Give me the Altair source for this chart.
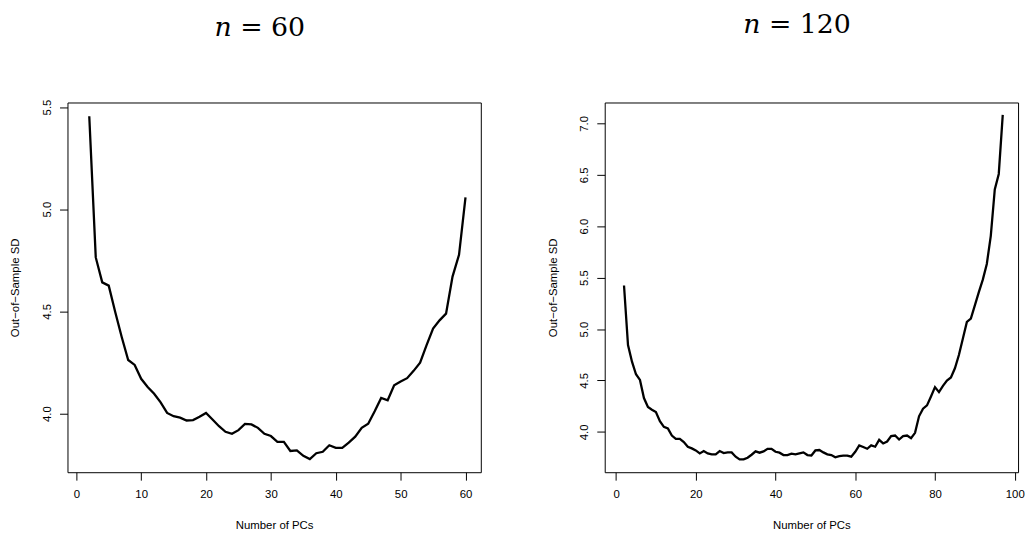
import altair as alt
import pandas as pd

# ---- data ----
pcs_60 = list(range(2, 61))
sd_60 = [5.455, 4.764, 4.642, 4.626, 4.497, 4.375, 4.262, 4.238, 4.170, 4.130,
         4.097, 4.055, 4.003, 3.987, 3.980, 3.966, 3.968, 3.984, 4.003, 3.971,
         3.938, 3.911, 3.901, 3.919, 3.949, 3.947, 3.930, 3.901, 3.890, 3.862,
         3.862, 3.817, 3.820, 3.793, 3.777, 3.806, 3.813, 3.845, 3.832, 3.832,
         3.858, 3.887, 3.930, 3.950, 4.011, 4.076, 4.065, 4.138, 4.157, 4.173,
         4.209, 4.249, 4.335, 4.416, 4.456, 4.489, 4.670, 4.777, 5.058]

pcs_120 = list(range(2, 98))
sd_120 = [5.423, 4.843, 4.682, 4.560, 4.505, 4.328, 4.241, 4.215, 4.193, 4.103,
          4.048, 4.032, 3.964, 3.932, 3.932, 3.900, 3.855, 3.839, 3.819, 3.790,
          3.813, 3.790, 3.781, 3.781, 3.813, 3.793, 3.800, 3.800, 3.758, 3.732,
          3.732, 3.748, 3.777, 3.810, 3.797, 3.810, 3.835, 3.835, 3.806, 3.797,
          3.774, 3.774, 3.787, 3.780, 3.790, 3.800, 3.774, 3.770, 3.819, 3.823,
          3.800, 3.781, 3.774, 3.752, 3.764, 3.768, 3.768, 3.758, 3.806, 3.868,
          3.852, 3.835, 3.868, 3.855, 3.922, 3.887, 3.906, 3.958, 3.964, 3.925,
          3.958, 3.964, 3.938, 3.990, 4.151, 4.225, 4.257, 4.344, 4.435, 4.386,
          4.447, 4.499, 4.528, 4.618, 4.747, 4.908, 5.069, 5.101, 5.230, 5.358,
          5.480, 5.633, 5.906, 6.357, 6.508, 7.082]

x_ticks_60 = [0, 10, 20, 30, 40, 50, 60]
y_ticks_60 = [4.0, 4.5, 5.0, 5.5]
x_ticks_120 = [0, 20, 40, 60, 80, 100]
y_ticks_120 = [4.0, 4.5, 5.0, 5.5, 6.0, 6.5, 7.0]

titles = ["\U0001D45B = 60", "\U0001D45B = 120"]

AX = dict(labelFont="Liberation Sans", labelFontSize=11.5, labelColor="black",
          titleFont="Liberation Sans", titleFontSize=11.5, titleColor="black",
          titleFontWeight="normal", tickColor="black", tickSize=8, tickWidth=1,
          domain=False, grid=False)


def panel(xs, ys, title, xdom, ydom, xticks, yticks, title_dy):
    df = pd.DataFrame({"pcs": xs, "sd": ys})
    return alt.Chart(
        df,
        title=alt.TitleParams(
            title, font="DejaVu Serif", fontSize=27, fontWeight="normal",
            color="black", frame="group", anchor="middle", dx=-14.5,
            dy=title_dy, offset=37, baseline="alphabetic",
        ),
    ).mark_line(color="black", strokeWidth=2.3).encode(
        x=alt.X("pcs:Q",
                scale=alt.Scale(domain=xdom, nice=False, zero=False),
                axis=alt.Axis(values=xticks, title="Number of PCs", format="d",
                              labelPadding=9, titlePadding=19, **AX)),
        y=alt.Y("sd:Q",
                scale=alt.Scale(domain=ydom, nice=False, zero=False),
                axis=alt.Axis(values=yticks, title="Out\u2212of\u2212Sample SD", format=".1f",
                              labelAngle=270, labelAlign="center",
                              labelBaseline="alphabetic", labelPadding=9,
                              titlePadding=21, **AX)),
    ).properties(width=417, height=373)


left = panel(pcs_60, sd_60, titles[0], [-1.36, 62.36], [3.713, 5.522],
             x_ticks_60, y_ticks_60, 0)
right = panel(pcs_120, sd_120, titles[1], [-2.84, 100.84], [3.607, 7.203],
              x_ticks_120, y_ticks_120, -6)

chart = alt.hconcat(left, right, spacing=65).properties(
    padding={"left": 1, "top": 0, "right": 0, "bottom": 0},
    background="white",
).configure_view(
    stroke="black", strokeWidth=1
)

chart.save("out.html", embed_options={"renderer": "svg", "actions": False})
